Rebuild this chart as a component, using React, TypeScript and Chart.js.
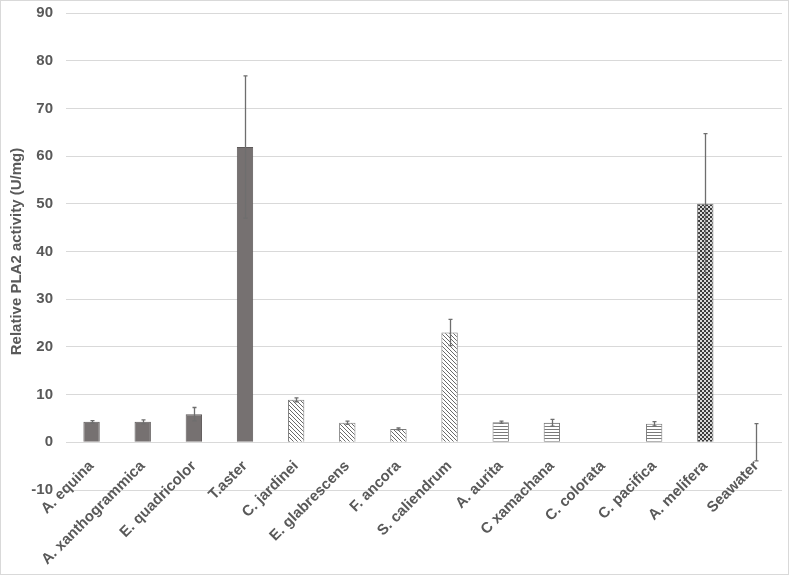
import React, { useEffect, useRef } from "react";
import { Chart, registerables } from "chart.js";

Chart.register(...registerables);

const categories = [
  "A. equina",
  "A. xanthogrammica",
  "E. quadricolor",
  "T.aster",
  "C. jardinei",
  "E. glabrescens",
  "F. ancora",
  "S. caliendrum",
  "A. aurita",
  "C xamachana",
  "C. colorata",
  "C. pacifica",
  "A. melifera",
  "Seawater",
];

const activity = [4.3, 4.3, 5.9, 61.9, 8.9, 4.1, 2.8, 23.0, 4.2, 4.1, 0.1, 3.9, 50.0, 0];
const activityError = [0.25, 0.4, 1.4, 14.9, 0.4, 0.35, 0.2, 2.75, 0.25, 0.7, 0, 0.45, 14.7, 3.9];
// fill style group per bar: solid, diagonal, horizontal, checker
const fillGroup = [
  "solid", "solid", "solid", "solid",
  "diag", "diag", "diag", "diag",
  "horiz", "horiz", "horiz", "horiz",
  "checker", "none",
];

const yTicks = { min: -10, max: 90, step: 10 };
const yTitle = "Relative PLA2 activity (U/mg)";

const FONT = "'Liberation Sans', Arial, sans-serif";

function makePattern(kind: string): CanvasPattern | string {
  const c = document.createElement("canvas");
  const ctx = c.getContext("2d")!;
  if (kind === "diag") {
    c.width = 4;
    c.height = 4;
    ctx.fillStyle = "#ffffff";
    ctx.fillRect(0, 0, 4, 4);
    ctx.fillStyle = "#6a6a6a";
    for (let i = 0; i < 4; i++) ctx.fillRect(i, i, 1, 1);
  } else if (kind === "horiz") {
    c.width = 4;
    c.height = 3;
    ctx.fillStyle = "#ffffff";
    ctx.fillRect(0, 0, 4, 3);
    ctx.fillStyle = "#7a7a7a";
    ctx.fillRect(0, 0, 4, 1);
  } else if (kind === "checker") {
    c.width = 4;
    c.height = 4;
    ctx.fillStyle = "#3a3a3a";
    ctx.fillRect(0, 0, 4, 4);
    ctx.fillStyle = "#d8d8d8";
    ctx.fillRect(0, 0, 2, 2);
    ctx.fillRect(2, 2, 2, 2);
  } else {
    return "#767171";
  }
  return ctx.createPattern(c, "repeat")!;
}

const errorBarPlugin = {
  id: "errorBars",
  afterDatasetsDraw(chart: any) {
    const meta = chart.getDatasetMeta(0);
    const yScale = chart.scales.y;
    const ctx = chart.ctx;
    ctx.save();
    ctx.strokeStyle = "#6e6e6e";
    ctx.lineWidth = 1.3;
    meta.data.forEach((bar: any, i: number) => {
      const e = activityError[i];
      if (!e) return;
      const v = activity[i];
      const x = Math.round(bar.x) + 0.5;
      const yt = yScale.getPixelForValue(v + e);
      const yb = yScale.getPixelForValue(v - e);
      ctx.beginPath();
      ctx.moveTo(x, yt);
      ctx.lineTo(x, yb);
      ctx.moveTo(x - 2, yt);
      ctx.lineTo(x + 2, yt);
      ctx.moveTo(x - 2, yb);
      ctx.lineTo(x + 2, yb);
      ctx.stroke();
    });
    ctx.restore();
  },
};

const frameBorderPlugin = {
  id: "frameBorder",
  beforeDraw(chart: any) {
    const ctx = chart.ctx;
    ctx.save();
    ctx.fillStyle = "#ffffff";
    ctx.fillRect(0, 0, chart.width, chart.height);
    ctx.strokeStyle = "#d9d9d9";
    ctx.lineWidth = 1;
    ctx.strokeRect(0.5, 0.5, chart.width - 2, chart.height - 1);
    ctx.restore();
  },
};

export default function App() {
  const ref = useRef<HTMLCanvasElement | null>(null);

  useEffect(() => {
    document.body.style.margin = "0";
    const canvas = ref.current!;
    const fills = fillGroup.map((g) => (g === "none" ? "rgba(0,0,0,0)" : makePattern(g)));
    const borders = fillGroup.map((g) =>
      g === "solid" ? "#5e5a5a" : g === "none" ? "rgba(0,0,0,0)" : "#7a7a7a"
    );
    const chart = new Chart(canvas, {
      type: "bar",
      data: {
        labels: categories,
        datasets: [
          {
            data: activity,
            backgroundColor: fills as any,
            borderColor: borders,
            borderWidth: 1,
            barPercentage: 0.32,
            categoryPercentage: 1,
          },
        ],
      },
      options: {
        responsive: false,
        animation: false,
        layout: { padding: { top: 13, right: 8, left: 0, bottom: 85 } },
        plugins: {
          legend: { display: false },
          tooltip: { enabled: false },
        },
        scales: {
          x: {
            position: { y: 0 } as any,
            grid: { display: false },
            border: { display: false },
            ticks: {
              autoSkip: false,
              maxRotation: 45,
              minRotation: 45,
              padding: 7,
              color: "#595959",
              font: { family: FONT, size: 15, weight: "bold" },
            },
            afterFit: (scale: any) => {
              scale.height = 86;
            },
          },
          y: {
            min: yTicks.min,
            max: yTicks.max,
            grid: { color: "#d9d9d9", drawTicks: false, lineWidth: 1 },
            border: { display: false },
            ticks: {
              stepSize: yTicks.step,
              padding: 13,
              color: "#595959",
              font: { family: FONT, size: 15, weight: "bold" },
            },
            title: {
              display: true,
              text: yTitle,
              color: "#595959",
              padding: { top: 8, bottom: 0 },
              font: { family: FONT, size: 15, weight: "bold" },
            },
            afterFit: (scale: any) => {
              scale.width = 66;
              scale.paddingTop = 0;
              scale.paddingBottom = 0;
            },
          },
        },
      },
      plugins: [frameBorderPlugin, errorBarPlugin],
    });
    return () => chart.destroy();
  }, []);

  return (
    <div style={{ width: 790, height: 575 }}>
      <canvas ref={ref} width={790} height={575} style={{ display: "block" }} />
    </div>
  );
}
